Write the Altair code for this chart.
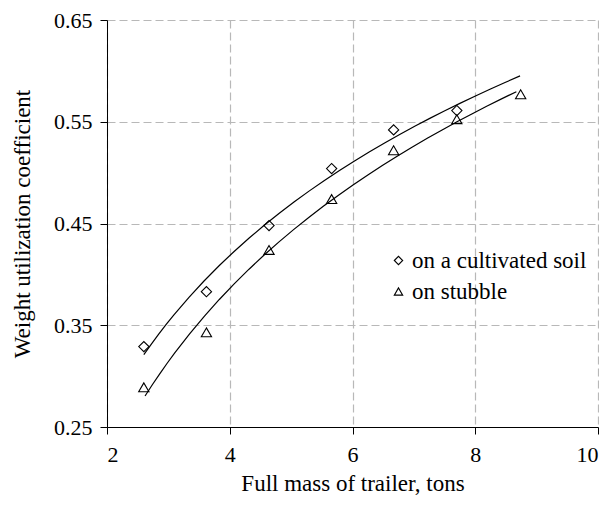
import altair as alt
import pandas as pd

# Data
mass_cultivated = [2.6, 3.62, 4.64, 5.66, 6.67, 7.7]
coef_cultivated = [0.329, 0.383, 0.448, 0.504, 0.542, 0.561]

mass_stubble = [2.6, 3.62, 4.64, 5.66, 6.67, 7.7, 8.74]
coef_stubble = [0.289, 0.343, 0.424, 0.474, 0.522, 0.5525, 0.577]

series_names = ["on a cultivated soil", "on stubble"]
series_shapes = ["diamond", "triangle-up"]

x_ticks = [2, 4, 6, 8, 10]
y_ticks = [0.25, 0.35, 0.45, 0.55, 0.65]

# fitted-curve extents (x range of drawn trend lines)
extent_cultivated = [2.6, 8.73]
extent_stubble = [2.62, 8.67]

df = pd.concat([
    pd.DataFrame({"mass": mass_cultivated, "coef": coef_cultivated, "series": series_names[0]}),
    pd.DataFrame({"mass": mass_stubble, "coef": coef_stubble, "series": series_names[1]}),
], ignore_index=True)

FONT = "Liberation Serif"

x_enc = alt.X("mass:Q",
              scale=alt.Scale(domain=[2, 10], nice=False),
              axis=alt.Axis(values=x_ticks, format="d", title="Full mass of trailer, tons",
                            tickSize=7, labelPadding=10, titlePadding=7))
y_enc = alt.Y("coef:Q",
              scale=alt.Scale(domain=[0.25, 0.65], nice=False, zero=False),
              axis=alt.Axis(values=y_ticks, format=".2f", title="Weight utilization coefficient",
                            tickSize=7, labelPadding=8, titlePadding=19))

base = alt.Chart(df)

points = base.mark_point(filled=False, color="black", strokeWidth=1.1, size=105, opacity=1).encode(
    x=x_enc,
    y=y_enc,
    shape=alt.Shape("series:N",
                    scale=alt.Scale(domain=series_names, range=series_shapes),
                    legend=alt.Legend(title=None, orient="none", legendX=280, legendY=229,
                                      symbolSize=70, symbolStrokeColor="black",
                                      symbolStrokeWidth=1.1, symbolFillColor="transparent",
                                      labelFontSize=23, labelFont=FONT, labelColor="black",
                                      rowPadding=7, labelOffset=2, labelLimit=300)),
)

line_c = base.transform_filter(alt.datum.series == series_names[0]).transform_regression(
    "mass", "coef", method="log", extent=extent_cultivated
).mark_line(color="black", strokeWidth=1.2).encode(x="mass:Q", y="coef:Q")

line_s = base.transform_filter(alt.datum.series == series_names[1]).transform_regression(
    "mass", "coef", method="log", extent=extent_stubble
).mark_line(color="black", strokeWidth=1.2).encode(x="mass:Q", y="coef:Q")

chart = alt.layer(line_c, line_s, points).properties(
    width=491, height=407,
    autosize=alt.AutoSizeParams(type="none"),
    padding={"left": 99, "top": 12, "right": 1, "bottom": 72},
).configure_view(stroke=None).configure_axis(
    labelFont=FONT, titleFont=FONT, labelFontSize=22, titleFontSize=23,
    labelColor="black", titleColor="black", titleFontWeight="normal",
    domainColor="black", tickColor="black",
    gridColor="#b8b8b8", gridDash=[8, 4], gridWidth=1.2,
)

chart.save("out.html", embed_options={"renderer": "svg", "actions": False})
